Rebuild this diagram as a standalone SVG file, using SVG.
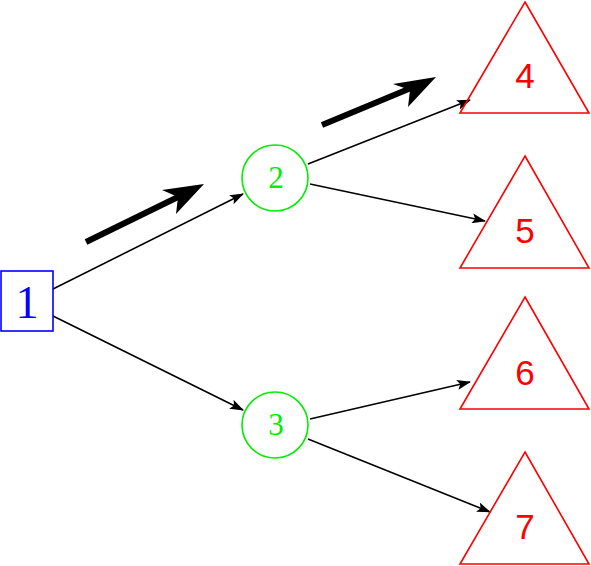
<svg xmlns="http://www.w3.org/2000/svg" width="591" height="566" viewBox="0 0 591 566">
<style>
.tri{fill:none;stroke:#ff0000;stroke-width:1.6}
.tl{font-family:"Liberation Sans","DejaVu Sans",sans-serif;font-size:35px;fill:#ff0000;text-anchor:middle}
.circ{fill:none;stroke:#00ee00;stroke-width:1.6}
.cl{font-family:"Liberation Serif",serif;font-size:31px;fill:#00ee00;text-anchor:middle}
.edge{stroke:#000;stroke-width:1.6;fill:none;marker-end:url(#ah)}
.big{stroke:#000;stroke-width:6;fill:none}
</style>
<defs>
<marker id="ah" markerWidth="14" markerHeight="10" refX="13" refY="5" orient="auto" markerUnits="userSpaceOnUse">
<path d="M0,0 L14,5 L0,10 L3,5 Z" fill="#000"/>
</marker>
</defs>
<rect width="591" height="566" fill="#fff"/>
<g id="connectors">
<line class="edge" x1="53" y1="289" x2="243" y2="194"/>
<line class="edge" x1="53" y1="316" x2="243" y2="410"/>
<line class="edge" x1="308" y1="164" x2="470" y2="100"/>
<line class="edge" x1="310" y1="184" x2="485" y2="221"/>
<line class="edge" x1="310" y1="419" x2="470" y2="382"/>
<line class="edge" x1="308" y1="439" x2="490" y2="512"/>
<line class="big" x1="86" y1="242" x2="178" y2="197"/>
<polygon points="204,184 162,190 178,197 176,214" fill="#000"/>
<line class="big" x1="322" y1="125" x2="411" y2="88"/>
<polygon points="436,77 393,84 410,90 408,107" fill="#000"/>
</g>
<g id="n1">
<rect x="1" y="271" width="52" height="60" fill="none" stroke="#0000ff" stroke-width="1.6"/>
<text x="27" y="318" font-family="Liberation Serif,serif" font-size="46" fill="#0000ff" text-anchor="middle">1</text>
</g>
<g id="n2">
<circle class="circ" cx="275" cy="178" r="33"/>
<text class="cl" x="276" y="188">2</text>
</g>
<g id="n3">
<circle class="circ" cx="275" cy="425" r="33"/>
<text class="cl" x="276" y="435">3</text>
</g>
<g id="n4">
<polygon class="tri" points="525,2 589,113 460,113"/>
<text class="tl" x="525" y="88">4</text>
</g>
<g id="n5">
<polygon class="tri" points="525,156 589,268 460,268"/>
<text class="tl" x="525" y="243">5</text>
</g>
<g id="n6">
<polygon class="tri" points="525,297 589,409 460,409"/>
<text class="tl" x="525" y="385">6</text>
</g>
<g id="n7">
<polygon class="tri" points="525,452 589,564 460,564"/>
<text class="tl" x="525" y="539">7</text>
</g>
</svg>
